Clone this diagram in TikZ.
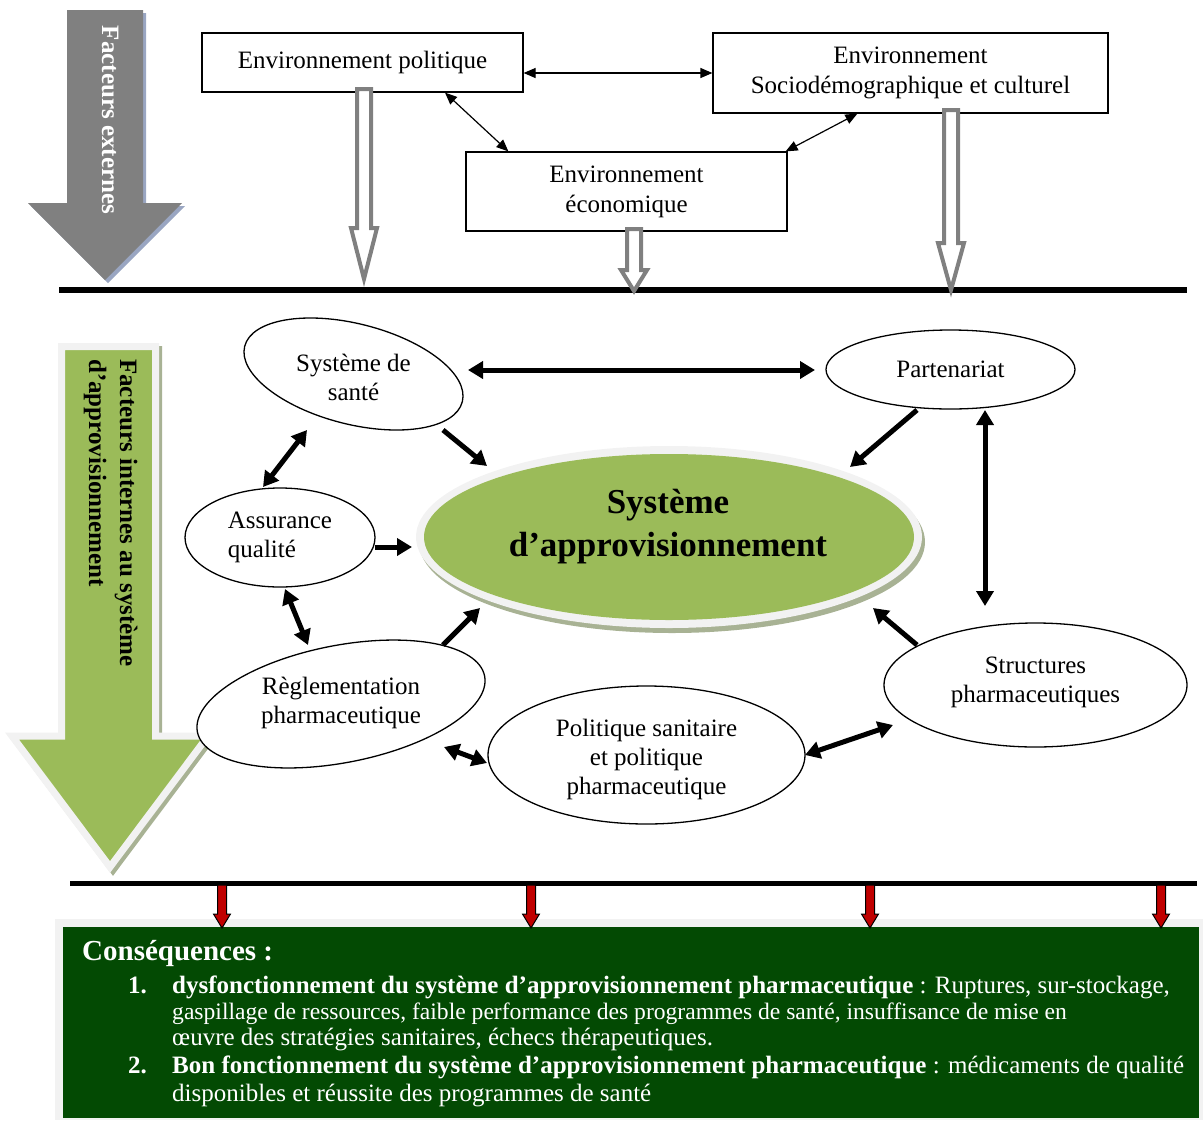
\documentclass[tikz,border=0pt]{standalone}
\usepackage{fontspec}
\setmainfont{Liberation Serif}
\usetikzlibrary{shapes.geometric,arrows.meta,calc}
\definecolor{arrgray}{HTML}{808080}
\definecolor{ogreen}{HTML}{9BBB59}
\definecolor{ringc}{HTML}{F2F2F2}
\definecolor{dgreen}{RGB}{3,74,3}
\definecolor{dred}{HTML}{C00000}
\definecolor{bshadow}{HTML}{9AA6C2}
\definecolor{gshadow}{HTML}{A8B294}
\newcommand\hollowarr[4]{\draw[hollow] (#1-7,#2) -- (#1-7,#3) -- (#1-13,#3) -- (#1,#4) -- (#1+13,#3) -- (#1+7,#3) -- (#1+7,#2) -- cycle;}
\newcommand\redarr[1]{\draw[redarrow] (#1-4.5,885) -- (#1+4.5,885) -- (#1+4.5,914) -- (#1+8.5,914) -- (#1,928) -- (#1-8.5,914) -- (#1-4.5,914) -- cycle;}
\begin{document}
\begin{tikzpicture}[x=1pt,y=-1pt,
  lbl/.style={font=\fontsize{25}{29}\selectfont, align=center, inner sep=0pt},
  boxn/.style={draw, line width=1.2pt, inner sep=0pt, font=\fontsize{25}{30}\selectfont, align=center},
  ell/.style={draw, ellipse, line width=1.3pt, inner sep=0pt, fill=white, font=\fontsize{25}{29}\selectfont, align=center},
  thinarr/.style={line width=1.2pt, {Triangle[length=12pt,width=10pt]}-{Triangle[length=12pt,width=10pt]}},
  thk/.style={line width=5pt, -{Triangle[length=15pt,width=17pt]}},
  thkb/.style={line width=5pt, {Triangle[length=15pt,width=17pt]}-{Triangle[length=15pt,width=17pt]}},
  hollow/.style={draw=arrgray, line width=4pt, fill=white, line join=miter},
  redarrow/.style={draw=black, line width=1pt, fill=dred},
  ctext/.style={anchor=base west, text=white, inner sep=0pt, font=\fontsize{25}{29}\selectfont},
  rot/.style={rotate=-90, anchor=base west, inner sep=0pt, font=\bfseries\fontsize{25}{30}\selectfont}
]
\path[use as bounding box] (0,0) rectangle (1203,1120);

% ---------- external factors arrow ----------
\fill[bshadow] (70,13) -- (146,13) -- (146,206) -- (185,206) -- (108,283) -- (31,206) -- (70,206) -- cycle;
\fill[arrgray] (67,10) -- (143,10) -- (143,203) -- (182,203) -- (105,280) -- (28,203) -- (67,203) -- cycle;
\node[rotate=-90, anchor=base, inner sep=0pt, text=white, font=\bfseries\fontsize{25}{30}\selectfont] (fext) at (102,120) {Facteurs externes};

% ---------- environment boxes ----------
\node[boxn, minimum width=321pt, minimum height=59pt] (pol) at (362.5,62.5) {Environnement politique};
\node[boxn, minimum width=395pt, minimum height=80pt] (soc) at (910.5,73) {Environnement\\Sociodémographique et culturel};
\node[boxn, minimum width=321pt, minimum height=79pt] (eco) at (626.5,191.5) {Environnement\\économique};

\draw[thinarr] (soc.west -| pol.east) -- (soc.west);
\draw[thinarr] ([xshift=82.5pt]pol.south) -- ([xshift=43pt]eco.north west);
\draw[thinarr] ([xshift=145pt]soc.south west) -- ([xshift=-2pt]eco.north east);

% ---------- top separation line ----------
\coordinate (tl) at (59,290);
\coordinate (tr) at (1187,290);
\draw[line width=6pt] (tl) -- (tr);
\hollowarr{364}{89}{228}{279}
\hollowarr{634}{229}{270}{291}
\hollowarr{951}{110}{243}{290}

% ---------- internal factors arrow ----------
\draw[fill=gshadow, draw=gshadow, line width=7pt, line join=miter] (64.5,349.5) -- (158.5,349.5) -- (158.5,739) -- (211,739) -- (113,870) -- (15,739) -- (64.5,739) -- cycle;
\draw[fill=ogreen, draw=ringc, line width=7pt, line join=miter] (61.5,346.5) -- (155.5,346.5) -- (155.5,736) -- (208,736) -- (110,867) -- (12,736) -- (61.5,736) -- cycle;
\node[rot] (fint1) at (120,359) {Facteurs internes au système};
\node[rot] (fint2) at (89,359) {d’approvisionnement};

% ---------- central ellipse ----------
\fill[gshadow] (672,542) ellipse [x radius=253, y radius=91];
\node[ellipse, fill=ringc, inner sep=0pt, minimum width=506pt, minimum height=182pt] (appro) at (669,537) {};
\node[ellipse, fill=ogreen, inner sep=0pt, minimum width=490pt, minimum height=166pt] (approIn) at (669,537) {};
\node[font=\bfseries\fontsize{35}{43}\selectfont, align=center, inner sep=0pt] (approT) at (668,527) {Système\\d’approvisionnement};

% ---------- factor ellipses ----------
\node[ell, minimum width=224.6pt, minimum height=100.4pt, rotate=-14.3] (sante) at (353.5,374) {};
\node[lbl] (santeT) at (353.5,377) {Système de\\santé};
\node[ell, minimum width=249pt, minimum height=79pt] (part) at (950.5,369.5) {Partenariat};
\node[ell, minimum width=190pt, minimum height=99pt, align=left] (assur) at (280,537.5) {Assurance\\qualité};
\node[ell, minimum width=292.6pt, minimum height=117.2pt, rotate=11] (regl) at (341,704) {};
\node[lbl] (reglT) at (341,703) {Règlementation\\pharmaceutique};
\node[ell, minimum width=317pt, minimum height=138pt] (polit) at (646.5,755) {};
\node[lbl] (politT) at (646.5,759) {Politique sanitaire\\et politique\\pharmaceutique};
\node[ell, minimum width=303pt, minimum height=124pt] (struct) at (1035.5,685) {};
\node[lbl] (structT) at (1035.5,682) {Structures\\pharmaceutiques};

% ---------- thick connectors ----------
\draw[thkb] ([shift={(114.5,-4)}]sante.center) -- ([shift={(-135.5,0.5)}]part.center);
\draw[thk] ([shift={(89.5,56)}]sante.center) -- ([shift={(-182,-71)}]appro.center);
\draw[thk] ([shift={(-33.5,40.5)}]part.center) -- ([shift={(181,-70)}]appro.center);
\draw[thkb] ([shift={(34.5,40.5)}]part.center) -- ([shift={(-50.5,-79)}]struct.center);
\draw[thkb] ([shift={(-46.5,56)}]sante.center) -- ([shift={(-17,-50.5)}]assur.center);
\draw[thk] ([shift={(95,9.5)}]assur.center) -- ([shift={(-257,10)}]appro.center);
\draw[thkb] ([shift={(5,51.5)}]assur.center) -- ([shift={(-33,-59)}]regl.center);
\draw[thk] ([shift={(102,-59)}]regl.center) -- ([shift={(-189,71)}]appro.center);
\draw[thkb] ([shift={(103,43)}]regl.center) -- ([shift={(-159.5,8)}]polit.center);
\draw[thkb] ([shift={(158.5,0)}]polit.center) -- ([shift={(-142.5,40)}]struct.center);
\draw[thk] ([shift={(-118.5,-40)}]struct.center) -- ([shift={(204,71)}]appro.center);

% ---------- bottom line and consequences ----------
\coordinate (bl) at (70,883);
\coordinate (br) at (1197,883);
\draw[line width=5pt] (bl) -- (br);
\fill[ringc] (55,919) rectangle (1203,1120);
\node[fill=dgreen, inner sep=0pt, minimum width=1136pt, minimum height=191pt, anchor=north west] (cbox) at (63,927) {};
\redarr{222}
\redarr{531}
\redarr{870}
\redarr{1161}

\begin{scope}
\clip (63,927) rectangle (1199,1118);
\node[anchor=base west, text=white, inner sep=0pt, font=\bfseries\fontsize{29}{34}\selectfont] (ctitle) at (82,960) {Conséquences :};
\node[ctext] (n1) at (128,993) {\textbf{1.}};
\node[ctext] (c1) at (172,993) {\textbf{dysfonctionnement du système d’approvisionnement pharmaceutique} : Ruptures, sur-stockage,};
\node[ctext, font=\fontsize{23.6}{29}\selectfont] (c2) at (172,1019) {gaspillage de ressources, faible performance des programmes de santé, insuffisance de mise en};
\node[ctext] (c3) at (172,1045) {œuvre des stratégies sanitaires, échecs thérapeutiques.};
\node[ctext] (n2) at (128,1073) {\textbf{2.}};
\node[ctext] (c4) at (172,1073) {\textbf{Bon fonctionnement du système d’approvisionnement pharmaceutique} : médicaments de qualité};
\node[ctext] (c5) at (172,1101) {disponibles et réussite des programmes de santé};
\end{scope}
\end{tikzpicture}
\end{document}
